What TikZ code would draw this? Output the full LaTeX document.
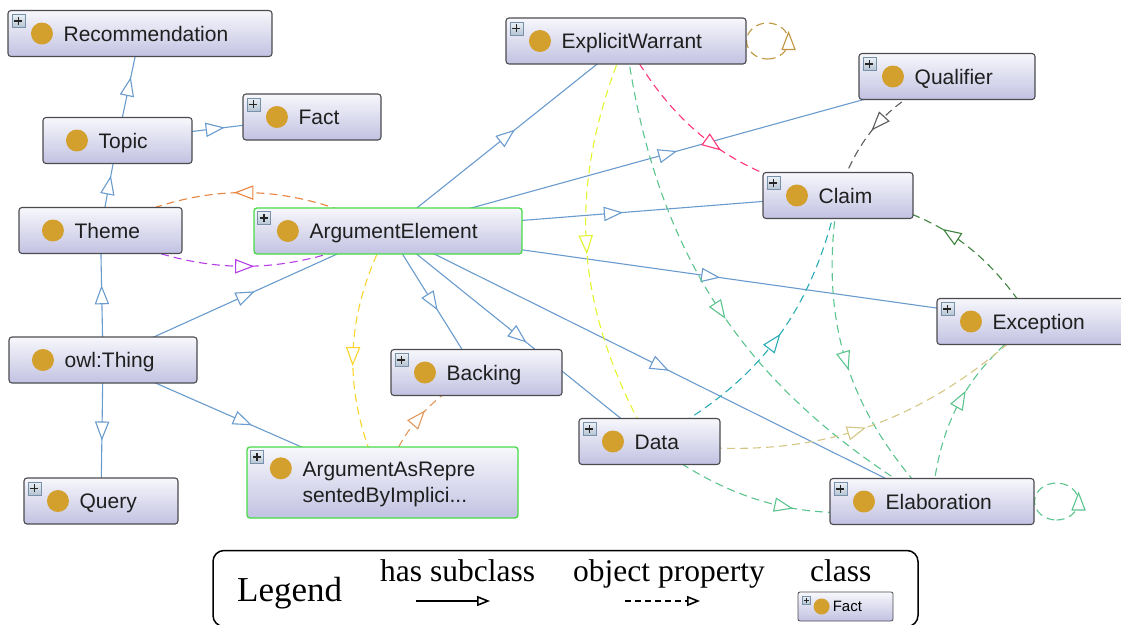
\documentclass[tikz,border=0pt]{standalone}
\usepackage{fontspec}
\setmainfont{Liberation Serif}
\newfontfamily\sansf{Liberation Sans}
\usetikzlibrary{decorations.markings,arrows.meta}
\pgfdeclarelayer{background}
\pgfsetlayers{background,main}

\definecolor{subblue}{RGB}{105,155,205}
\definecolor{boxedge}{RGB}{75,75,80}
\definecolor{boxtop}{RGB}{247,247,252}
\definecolor{boxbot}{RGB}{194,194,226}
\definecolor{boxgreen}{RGB}{70,220,70}
\definecolor{dotgold}{RGB}{212,160,45}
\definecolor{iconedge}{RGB}{120,145,170}
\definecolor{icontop}{RGB}{235,240,245}
\definecolor{iconbot}{RGB}{180,195,210}
\definecolor{cOrange}{RGB}{232,132,62}
\definecolor{cPurple}{RGB}{182,62,232}
\definecolor{cYellow}{RGB}{250,212,45}
\definecolor{cTan}{RGB}{226,152,92}
\definecolor{cLoopGold}{RGB}{192,150,62}
\definecolor{cPink}{RGB}{255,52,122}
\definecolor{cLime}{RGB}{226,244,45}
\definecolor{cGreen}{RGB}{92,196,142}
\definecolor{cTeal}{RGB}{42,172,182}
\definecolor{cDkGreen}{RGB}{62,132,62}
\definecolor{cKhaki}{RGB}{212,198,132}
\definecolor{cGray}{RGB}{92,92,92}

\tikzset{
  clsbox/.style={rectangle, rounded corners=3pt, draw=boxedge, line width=1.1pt,
    top color=boxtop, bottom color=boxbot, minimum height=46pt, inner sep=0pt},
  greenbox/.style={draw=boxgreen, line width=1.3pt},
  clstext/.style={font=\sansf\fontsize{21}{25}\selectfont, text=black!88,
    inner sep=0pt, text height=20pt, text depth=5pt, anchor=west},
  tri/.style={decoration={markings, mark=at position 0.5 with
    {\draw[solid, line width=1.1pt, draw=#1, fill=white] (8.5,0) -- (-8.5,6.5) -- (-8.5,-6.5) -- cycle;}},
    postaction={decorate}},
  looptri/.style={decoration={markings, mark=at position 0.25 with
    {\draw[solid, line width=1.1pt, draw=#1, fill=white] (8.5,0) -- (-8.5,6.5) -- (-8.5,-6.5) -- cycle;}},
    postaction={decorate}},
  subc/.style={draw=subblue, line width=1.1pt, tri=subblue},
  prop/.style={draw=#1, line width=1.1pt, dash pattern=on 8pt off 5pt, tri=#1},
  proploop/.style={draw=#1, line width=1.1pt, dash pattern=on 8pt off 5pt, looptri=#1},
  legtext/.style={font=\fontsize{31.5}{35}\selectfont, inner sep=0pt, anchor=base west},
}

% class box: [extra options]{name}{x}{y}{width}{label}
\newcommand\classbox[6][]{%
  \node[clsbox, minimum width=#5pt, #1] (#2) at (#3,-#4) {};
  \fill[dotgold] ([xshift=34.5pt]#2.west) circle (11pt);
  \node[clstext] (#2-label) at ([xshift=56pt]#2.west) {#6};
}
% expand icon in the upper left corner of a class box
\newcommand\plusicon[1]{%
  \path[draw=iconedge, line width=0.8pt, top color=icontop, bottom color=iconbot]
    ([shift={(4.5,-4.5)}]#1.north west) rectangle ++(13,-13);
  \draw[line width=1.8pt, black!85]
    ([shift={(11,-7)}]#1.north west) -- ++(0,-8)
    ([shift={(7,-11)}]#1.north west) -- ++(8,0);
}

\begin{document}
\begin{tikzpicture}[x=1pt, y=1pt]
\useasboundingbox (0,0) rectangle (1121,-624);

% classes
\classbox{rec}{140}{33.5}{264}{Recommendation}\plusicon{rec}
\classbox{fact}{312}{117}{138}{Fact}\plusicon{fact}
\classbox{topic}{117.5}{140.5}{149}{Topic}
\classbox{theme}{100.5}{230.5}{163}{Theme}
\classbox[greenbox]{ae}{388}{231}{268}{ArgumentElement}\plusicon{ae}
\classbox{thing}{103}{360}{188}{owl:Thing}
\classbox{query}{101}{501}{154}{Query}\plusicon{query}
\classbox{backing}{476.5}{372.5}{171}{Backing}\plusicon{backing}
\classbox{data}{649.5}{441.5}{141}{Data}\plusicon{data}
\classbox{ew}{626}{41}{240}{ExplicitWarrant}\plusicon{ew}
\classbox{qual}{947}{76.5}{176}{Qualifier}\plusicon{qual}
\classbox{claim}{838}{195.5}{150}{Claim}\plusicon{claim}
\classbox{exc}{1032.5}{321.5}{191}{Exception}\plusicon{exc}
\classbox{elab}{932}{501.5}{204}{Elaboration}\plusicon{elab}

% two-line class
\node[clsbox, greenbox, minimum width=271pt, minimum height=71pt] (aarbi) at (382.5,-482.5) {};
\fill[dotgold] ([shift={(34.5,-22)}]aarbi.north west) circle (11pt);
\node[clstext, anchor=base west, text height=, text depth=] (aarbi-l1) at ([shift={(56,-30)}]aarbi.north west) {ArgumentAsRepre};
\node[clstext, anchor=base west, text height=, text depth=] (aarbi-l2) at ([shift={(56,-56)}]aarbi.north west) {sentedByImplici...};
\plusicon{aarbi}

% connectors, drawn centre to centre underneath the boxes
\begin{pgfonlayer}{background}
  % has subclass
  \draw[subc] (topic.center) -- (rec.center);
  \draw[subc] (topic.center) -- (fact.center);
  \draw[subc] (theme.center) -- (topic.center);
  \draw[subc] (thing.center) -- (theme.center);
  \draw[subc] (thing.center) -- (query.center);
  \draw[subc] (thing.center) -- (ae.center);
  \draw[subc] (thing.center) -- (aarbi.center);
  \draw[subc] (ae.center) -- (ew.center);
  \draw[subc] (ae.center) -- (qual.center);
  \draw[subc] (ae.center) -- (claim.center);
  \draw[subc] (ae.center) -- (exc.center);
  \draw[subc] (ae.center) -- (backing.center);
  \draw[subc] (ae.center) -- (data.center);
  \draw[subc] (ae.center) -- (elab.center);
  % object properties
  \draw[prop=cOrange] (ae.center) to[bend right=27] (theme.center);
  \draw[prop=cPurple] (theme.center) to[bend right=25] (ae.center);
  \draw[prop=cYellow] (ae.center) to[bend right=26] (aarbi.center);
  \draw[prop=cTan] (aarbi.center) to[bend left=20] (backing.center);
  \draw[prop=cPink] (ew.center) to[bend right=25] (claim.center);
  \draw[prop=cLime] (ew.center) to[bend right=26] (data.center);
  \draw[prop=cGreen] (ew.center) to[bend right=26] (elab.center);
  \draw[prop=cGreen] (claim.center) to[bend right=26] (elab.center);
  \draw[prop=cTeal] (data.center) to[bend right=25] (claim.center);
  \draw[prop=cDkGreen] (exc.center) to[bend right=25] (claim.center);
  \draw[prop=cGreen] (elab.center) to[bend left=24] (exc.center);
  \draw[prop=cKhaki] (data.center) to[bend right=26] (exc.center);
  \draw[prop=cGreen] (data.center) to[bend right=25] (elab.center);
  \draw[prop=cGray] (qual.center) to[bend right=24] (claim.center);
  % self loops
  \draw[proploop=cLoopGold] ([shift={(21,-18)}]ew.east)
    arc[start angle=-90, end angle=270, x radius=21pt, y radius=18pt];
  \draw[proploop=cGreen] ([shift={(22,-18.5)}]elab.east)
    arc[start angle=-90, end angle=270, x radius=22pt, y radius=18.5pt];
\end{pgfonlayer}

% legend
\node[draw, line width=1.5pt, rounded corners=11pt, minimum width=705pt,
  minimum height=76pt, inner sep=0pt] (legend) at (565.5,-588.5) {};
\node[legtext, font=\fontsize{35}{40}\selectfont] (leg-title) at (237,-601) {Legend};
\node[legtext] (leg-sub) at (380,-581) {has subclass};
\node[legtext] (leg-prop) at (573,-581) {object property};
\node[legtext] (leg-class) at (810,-581) {class};
\coordinate (ls1) at (416,-601);
\coordinate (ls2) at (490,-601);
\coordinate (lp1) at (625,-601);
\coordinate (lp2) at (700,-601);
\draw[line width=1.3pt, -{Triangle[open, length=13pt, width=10pt, line width=1.6pt]}] (ls1) -- (ls2);
\draw[line width=1.3pt, dash pattern=on 6pt off 4pt,
  -{Triangle[open, length=13pt, width=10pt, line width=1.6pt]}] (lp1) -- (lp2);
\node[clsbox, minimum width=95pt, minimum height=29pt, rounded corners=2pt,
  line width=0.8pt] (leg-fact) at (845.5,-606.5) {};
\path[draw=iconedge, line width=0.6pt, top color=icontop, bottom color=iconbot]
  ([shift={(4.5,-4.5)}]leg-fact.north west) rectangle ++(8,-8);
\draw[line width=1pt, black!85]
  ([shift={(8.5,-6)}]leg-fact.north west) -- ++(0,-5)
  ([shift={(6,-8.5)}]leg-fact.north west) -- ++(5,0);
\fill[dotgold] ([xshift=24pt]leg-fact.west) circle (8pt);
\node[font=\sansf\fontsize{15}{17}\selectfont, inner sep=0pt, anchor=west]
  (leg-fact-label) at ([xshift=35pt]leg-fact.west) {Fact};
\end{tikzpicture}
\end{document}
